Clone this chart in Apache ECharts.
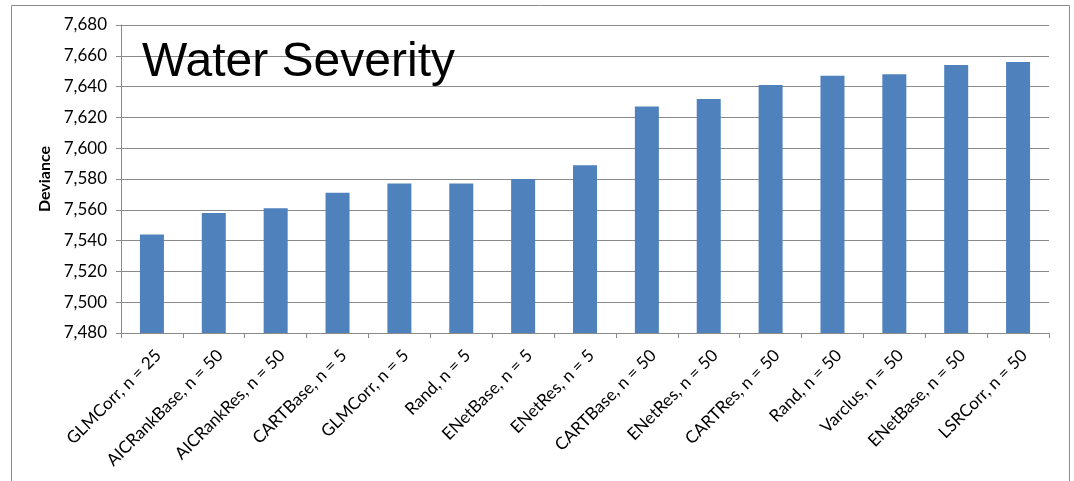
<!DOCTYPE html>
<html>
<head>
<meta charset="utf-8">
<script src="https://cdn.jsdelivr.net/npm/echarts@6/dist/echarts.min.js"></script>
<style>
  html, body { margin: 0; padding: 0; background: #fff; }
  #chart { width: 1074px; height: 481px; }
</style>
</head>
<body>
<div id="chart"></div>
<script>
// Model variants, ordered by deviance
const categories = [
  'GLMCorr, n = 25', 'AICRankBase, n = 50', 'AICRankRes, n = 50', 'CARTBase, n = 5',
  'GLMCorr, n = 5', 'Rand, n = 5', 'ENetBase, n = 5', 'ENetRes, n = 5',
  'CARTBase, n = 50', 'ENetRes, n = 50', 'CARTRes, n = 50', 'Rand, n = 50',
  'Varclus, n = 50', 'ENetBase, n = 50', 'LSRCorr, n = 50'
];
const deviance = [
  7544, 7558, 7561, 7571, 7577, 7577, 7580, 7589,
  7627, 7632, 7641, 7647, 7648, 7654, 7656
];
const yMin = 7480;
const yMax = 7680;
const yStep = 20;
const titleText = 'Water Severity';
const yAxisTitle = 'Deviance';

const chart = echarts.init(document.getElementById('chart'), null, { renderer: 'canvas' });
const gray = '#8a8a8a';
const labelFont = 'Lato, "Open Sans", sans-serif';

chart.setOption({
  animation: false,
  backgroundColor: '#fff',
  title: {
    text: titleText,
    left: 142,
    top: 39,
    padding: 0,
    textStyle: {
      fontFamily: '"Liberation Sans", Arial, sans-serif',
      fontSize: 48,
      fontWeight: 'normal',
      color: '#000'
    }
  },
  graphic: [{
    type: 'polyline',
    silent: true,
    shape: { points: [[11.5, 481], [11.5, 5.5], [1069.5, 5.5], [1069.5, 481]] },
    style: { stroke: '#8c8c8c', lineWidth: 1, fill: null }
  }],
  grid: { left: 121, right: 25, top: 25, bottom: 148, containLabel: false },
  xAxis: {
    type: 'category',
    data: categories,
    axisLine: { show: true, lineStyle: { color: gray, width: 1 } },
    axisTick: { show: true, length: 5, alignWithLabel: false, lineStyle: { color: gray } },
    axisLabel: {
      rotate: 45,
      interval: 0,
      margin: 26,
      padding: [0, -9, 0, 0],
      color: '#000',
      fontFamily: labelFont,
      fontSize: 17
    },
    splitLine: { show: false }
  },
  yAxis: {
    type: 'value',
    min: yMin,
    max: yMax,
    interval: yStep,
    name: yAxisTitle,
    nameLocation: 'middle',
    nameGap: 68,
    nameTextStyle: {
      fontFamily: labelFont,
      fontWeight: 'bold',
      fontSize: 16,
      color: '#000'
    },
    axisLine: { show: true, lineStyle: { color: gray, width: 1 } },
    axisTick: { show: true, length: 5, lineStyle: { color: gray } },
    axisLabel: {
      margin: 14,
      color: '#000',
      fontFamily: labelFont,
      fontSize: 17,
      formatter: v => v.toLocaleString('en-US')
    },
    splitLine: { show: true, lineStyle: { color: gray, width: 1 } }
  },
  series: [{
    type: 'bar',
    data: deviance,
    barWidth: 24,
    itemStyle: { color: '#4f81bd' }
  }]
});
</script>
</body>
</html>
